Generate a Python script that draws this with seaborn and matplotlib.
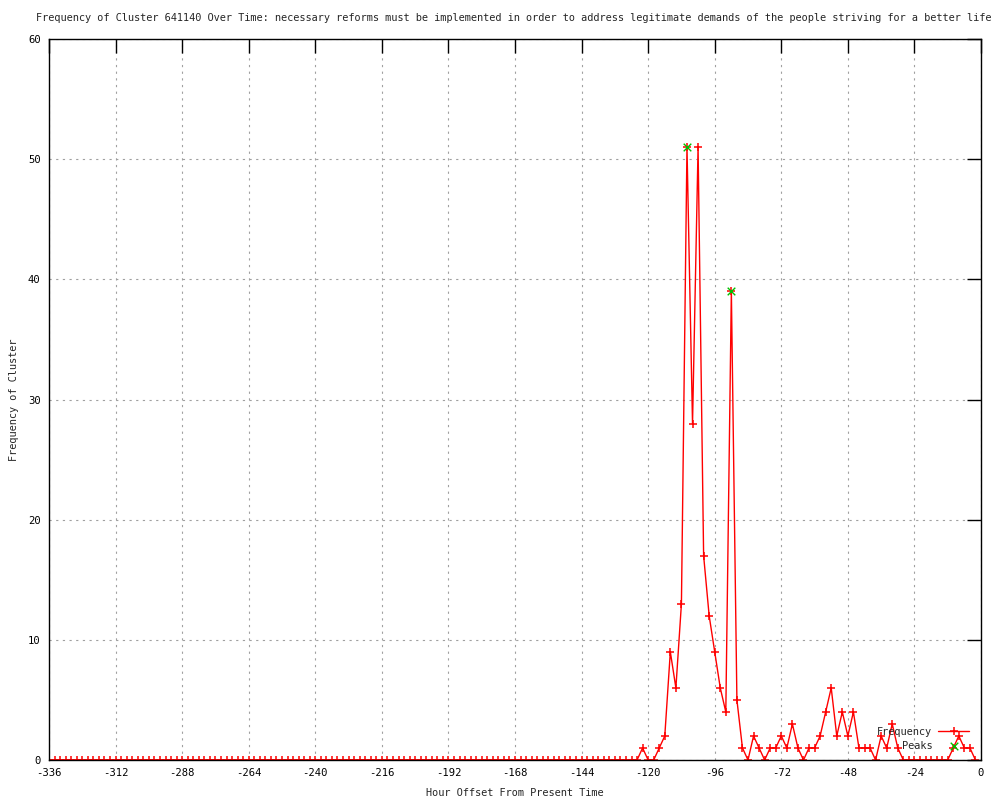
import pandas as pd
import matplotlib
matplotlib.use("Agg")
import matplotlib.pyplot as plt
import seaborn as sns

# hours before present, sampled every 2 hours
hours = list(range(-336, 0, 2))

# cluster frequency per 2h bin
frequency = [
    0, 0, 0, 0, 0, 0, 0, 0, 0, 0, 0, 0, 0, 0, 0, 0, 0, 0, 0, 0,
    0, 0, 0, 0, 0, 0, 0, 0, 0, 0, 0, 0, 0, 0, 0, 0, 0, 0, 0, 0,
    0, 0, 0, 0, 0, 0, 0, 0, 0, 0, 0, 0, 0, 0, 0, 0, 0, 0, 0, 0,
    0, 0, 0, 0, 0, 0, 0, 0, 0, 0, 0, 0, 0, 0, 0, 0, 0, 0, 0, 0,
    0, 0, 0, 0, 0, 0, 0, 0, 0, 0, 0, 0, 0, 0, 0, 0, 0, 0, 0, 0,
    0, 0, 0, 0, 0, 0, 0,
    1, 0, 0, 1, 2, 9, 6, 13, 51, 28, 51, 17, 12, 9, 6, 4, 39, 5, 1, 0,
    2, 1, 0, 1, 1, 2, 1, 3, 1, 0, 1, 1, 2, 4, 6, 2, 4, 2, 4, 1,
    1, 1, 0, 2, 1, 3, 1, 0, 0, 0, 0, 0, 0, 0, 0, 0, 1, 2, 1, 1,
    0,
]

peak_hours = [-106, -90]
peak_values = [51, 39]

x_ticks = [-336, -312, -288, -264, -240, -216, -192, -168, -144, -120, -96, -72, -48, -24, 0]
y_ticks = [0, 10, 20, 30, 40, 50, 60]

title = ("Frequency of Cluster 641140 Over Time: necessary reforms must be implemented "
         "in order to address legitimate demands of the people striving for a better life")

df = pd.DataFrame({"hour": hours, "freq": frequency})
peaks = pd.DataFrame({"hour": peak_hours, "freq": peak_values})

sns.set_theme(style="white")
plt.rcParams["font.family"] = ["DejaVu Sans Mono"]
plt.rcParams["axes.unicode_minus"] = False

fig = plt.figure(figsize=(10, 8), dpi=100)
ax = fig.add_axes([0.049, 0.05, 0.932, 0.90125])

sns.lineplot(data=df, x="hour", y="freq", ax=ax, color="#ff0000", linewidth=1.0,
             marker="+", markersize=6, markeredgewidth=1.1, markeredgecolor="#ff0000",
             label="Frequency")
sns.scatterplot(data=peaks, x="hour", y="freq", ax=ax, color="#00c000", marker="x",
                s=30, linewidth=1.0, label="Peaks", zorder=5)

ax.set_xlim(-336, 0)
ax.set_ylim(0, 60)
ax.set_xticks(x_ticks)
ax.set_yticks(y_ticks)
ax.grid(True, color="#a0a0a0", linestyle=(0, (2, 4)), linewidth=0.8)
ax.tick_params(direction="in", length=10, width=1, top=True, right=True,
               labelsize=7.6, colors="black", pad=6)
for s in ax.spines.values():
    s.set_color("black")
    s.set_linewidth(1)

fig.text(0.514, 1 - 18 / 800, title, fontsize=7.4, ha="center", va="center")
ax.set_xlabel("Hour Offset From Present Time", fontsize=7.4)
ax.set_ylabel("Frequency of Cluster", fontsize=7.4)
ax.xaxis.set_label_coords(0.5, -0.039)
ax.yaxis.set_label_coords(-0.032, 0.5)

ax.legend(loc="lower right", bbox_to_anchor=(0.995, 0.003), frameon=False,
          markerfirst=False, fontsize=7.4, handlelength=3.0, handletextpad=0.6,
          labelspacing=0.35, borderpad=0.2)

plt.savefig("out.png", dpi=100)
